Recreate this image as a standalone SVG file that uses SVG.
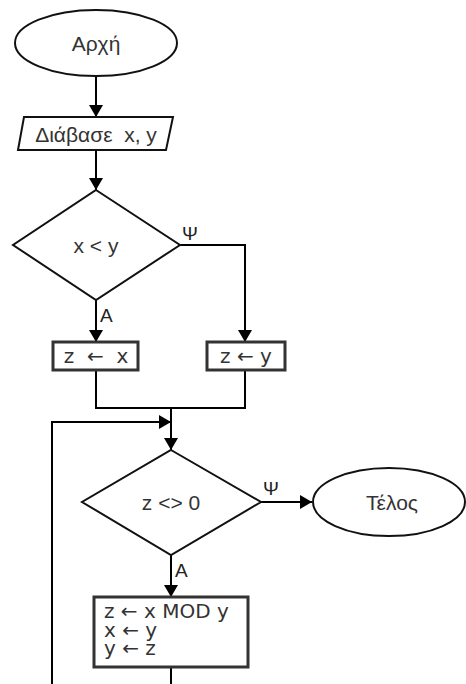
<svg xmlns="http://www.w3.org/2000/svg" width="466" height="684" viewBox="0 0 466 684">
<style>
.ln{fill:none;stroke:#000;stroke-width:2}
.sh{fill:#fff;stroke:#111;stroke-width:2}
.bx{fill:#fff;stroke:#333;stroke-width:3}
.t{font-family:"Liberation Sans",Arial,sans-serif;font-size:21px;fill:#333}
.d{font-family:"DejaVu Sans",sans-serif;font-size:20px;fill:#333}
.c{text-anchor:middle;dominant-baseline:central}
.lb{font-family:"Liberation Sans",Arial,sans-serif;font-size:19px;fill:#222}
</style>
<defs>
<marker id="ah" markerUnits="userSpaceOnUse" markerWidth="12" markerHeight="14" viewBox="0 0 12 14" refX="12" refY="7" orient="auto">
<path d="M0,0 L12,7 L0,14 z" fill="#000"/>
</marker>
</defs>
<rect width="466" height="684" fill="#fff"/>
<g id="connectors">
<path class="ln" d="M96,76 V117" marker-end="url(#ah)"/>
<path class="ln" d="M96,150 V190" marker-end="url(#ah)"/>
<path class="ln" d="M180,245 H245 V342" marker-end="url(#ah)"/>
<path class="ln" d="M96,300 V342" marker-end="url(#ah)"/>
<path class="ln" d="M96,370 V408 H245 V370"/>
<path class="ln" d="M171,408 V450" marker-end="url(#ah)"/>
<path class="ln" d="M52,684 V422 H171" marker-end="url(#ah)"/>
<path class="ln" d="M261,502 H312" marker-end="url(#ah)"/>
<path class="ln" d="M171,555 V597" marker-end="url(#ah)"/>
<path class="ln" d="M171,667 V684"/>
<text class="lb" x="182" y="240">Ψ</text>
<text class="lb" x="100" y="322">A</text>
<text class="lb" x="263" y="495">Ψ</text>
<text class="lb" x="175" y="577">A</text>
</g>
<g id="start">
<ellipse class="sh" cx="96" cy="43" rx="81" ry="33"/>
<text class="t c" x="96" y="43">Αρχή</text>
</g>
<g id="input">
<polygon class="sh" points="24,117 173,117 166,150 18,150"/>
<text class="t c" x="96" y="134" xml:space="preserve">Διάβασε  x, y</text>
</g>
<g id="cond1">
<polygon class="sh" points="96,190 180,245 96,300 13,245"/>
<text class="t c" x="96" y="245">x &lt; y</text>
</g>
<g id="assignX">
<rect class="bx" x="53" y="342" width="85" height="28"/>
<text class="d c" x="96" y="356" xml:space="preserve">z  ←  x</text>
</g>
<g id="assignY">
<rect class="bx" x="207" y="342" width="78" height="28"/>
<text class="d c" x="246" y="356">z ← y</text>
</g>
<g id="cond2">
<polygon class="sh" points="171,450 261,502 171,555 82,502"/>
<text class="t c" x="171" y="502">z &lt;&gt; 0</text>
</g>
<g id="end">
<ellipse class="sh" cx="389" cy="502" rx="76" ry="34"/>
<text class="t c" x="392" y="502">Τέλος</text>
</g>
<g id="loopBody">
<rect class="bx" x="94" y="597" width="154" height="70"/>
<text class="d" x="104" y="618">z ← x MOD y</text>
<text class="d" x="104" y="637">x ← y</text>
<text class="d" x="104" y="655">y ← z</text>
</g>
</svg>
